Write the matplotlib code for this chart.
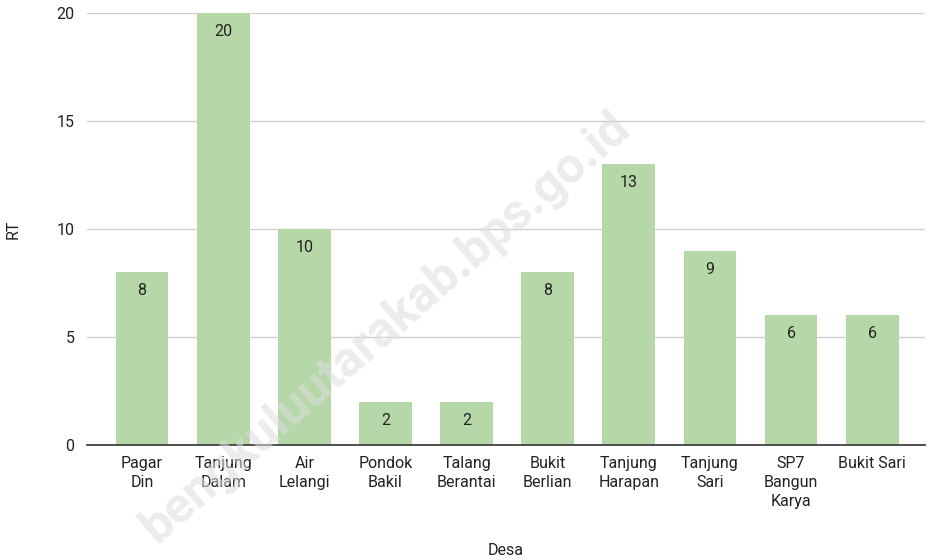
import matplotlib.pyplot as plt
import numpy as np

plt.rcParams['font.family'] = ['Roboto', 'DejaVu Sans']
plt.rcParams['font.size'] = 11.5

desa = ["Pagar\nDin", "Tanjung\nDalam", "Air\nLelangi", "Pondok\nBakil",
        "Talang\nBerantai", "Bukit\nBerlian", "Tanjung\nHarapan", "Tanjung\nSari",
        "SP7\nBangun\nKarya", "Bukit Sari"]
rt = [8, 20, 10, 2, 2, 8, 13, 9, 6, 6]
y_ticks = [0, 5, 10, 15, 20]

fig = plt.figure(figsize=(9.29, 5.6), dpi=100)
ax = fig.add_axes([0.0936, 0.2054, 0.902, 0.7714])

x = np.arange(len(desa))
ax.bar(x, rt, width=0.65, color="#b6d7a8", zorder=2)

for xi, v in zip(x, rt):
    ax.annotate(str(v), (xi, v), xytext=(0, -8), textcoords="offset points",
                ha="center", va="top", fontsize=11.5, color="#222222", zorder=3)

ax.set_xlim(-0.68, 9.65)
ax.set_ylim(0, 20)
ax.set_yticks(y_ticks)
ax.set_xticks(x)
ax.set_xticklabels(desa, linespacing=1.35, color="#222222")
ax.tick_params(axis="both", length=0, colors="#222222", labelsize=11.5)
ax.tick_params(axis="x", pad=8)
ax.tick_params(axis="y", pad=9)
ax.grid(axis="y", color="#d0d0d0", linewidth=1, zorder=0)

for s in ["top", "right", "left"]:
    ax.spines[s].set_visible(False)
ax.spines["bottom"].set_color("#333333")
ax.spines["bottom"].set_linewidth(1.2)
ax.spines["bottom"].set_zorder(3)

ax.set_xlabel("Desa", fontsize=11.5, color="#222222", labelpad=24)
ax.set_ylabel("RT", fontsize=11.5, color="#222222", labelpad=26)

# watermark
fig.text(0.415, 0.415, "bengkuluutarakab.bps.go.id", fontsize=36, fontweight="bold",
         color="#dddddd", alpha=0.55, rotation=41, ha="center", va="center", zorder=5)

fig.savefig("out.png", dpi=100)
